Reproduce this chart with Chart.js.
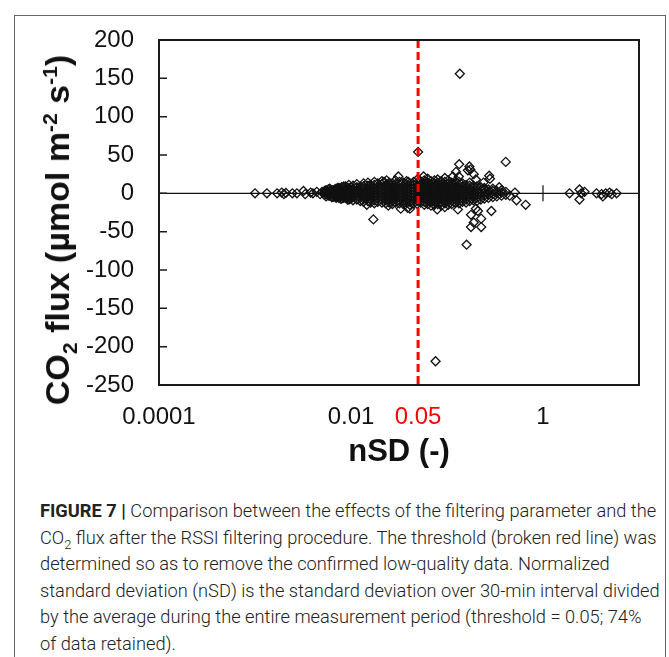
<!DOCTYPE html>
<html>
<head>
<meta charset="utf-8">
<script src="https://cdn.jsdelivr.net/npm/chart.js@4.4.1/dist/chart.umd.min.js"></script>
<style>
  html, body { margin: 0; padding: 0; background: #fff; }
  body { width: 669px; height: 657px; position: relative; overflow: hidden; }
  .frame { position: absolute; left: 14px; top: 15px; width: 652px; height: 700px; border: 1.5px solid #666; box-sizing: border-box; }
  #chart { position: absolute; left: 0; top: 0; }
  .ytitle { position: absolute; left: 57px; top: 230px; transform: translate(-50%, -50%) rotate(-90deg);
    font: bold 34px "Liberation Sans", Arial, sans-serif; line-height: 34px; white-space: nowrap; color: #111; }
  .ytitle sub, .ytitle sup { font-size: 0.62em; line-height: 0; }
  .caption { position: absolute; left: 40px; top: 498px; font: 300 18.25px Roboto, sans-serif; line-height: 26.5px; color: #222; white-space: nowrap; }
  .caption b { font-weight: 700; }
  .caption sub { font-size: 0.7em; line-height: 0; }
</style>
</head>
<body>
<div class="frame"></div>
<canvas id="chart" width="669" height="490"></canvas>
<div class="ytitle">CO<sub>2</sub> flux (µmol m<sup>-2</sup> s<sup>-1</sup>)</div>
<div class="caption">
  <div><b>FIGURE 7 |</b> Comparison between the effects of the filtering parameter and the</div>
  <div>CO<sub>2</sub> flux after the RSSI filtering procedure. The threshold (broken red line) was</div>
  <div>determined so as to remove the confirmed low-quality data. Normalized</div>
  <div>standard deviation (nSD) is the standard deviation over 30-min interval divided</div>
  <div>by the average during the entire measurement period (threshold = 0.05; 74%</div>
  <div>of data retained).</div>
</div>
<script>
// axis ticks
const xTickValues = [0.0001, 0.01, 0.05, 1];
const xTickLabels = ['0.0001', '0.01', '0.05', '1'];
const yTickValues = [-250, -200, -150, -100, -50, 0, 50, 100, 150, 200];
const threshold = 0.05;

// dense band: nSD of each column and the CO2 flux values in it
const bandNsd = [0.0053, 0.0055, 0.0058, 0.006, 0.0063, 0.0065, 0.0068, 0.007, 0.0073, 0.0075,
  0.0078, 0.008, 0.0084, 0.0088, 0.0092, 0.0095, 0.01, 0.0105, 0.0115,
  0.0125, 0.0135, 0.015, 0.016, 0.0175, 0.019, 0.021, 0.023, 0.025, 0.027,
  0.029, 0.032, 0.035, 0.038, 0.041, 0.045, 0.049, 0.053, 0.058, 0.063,
  0.068, 0.074, 0.08, 0.087, 0.095, 0.103, 0.112, 0.122, 0.133, 0.145,
  0.158, 0.172, 0.188, 0.205, 0.225, 0.245, 0.27, 0.3, 0.33, 0.37, 0.41];
const bandFlux = [
  [-2, 1, 3], [-4, -1, 2, 4], [-3, 0, 2, 5], [-3, 0, 3, 6], [-5, -1, 2, 4], [-5, -2, 1, 4], [-4, -1, 2, 5], [-6, -4, 0, 3, 6], [-5, -2, 1, 4, 7], [-6, -3, 0, 4, 7],
  [-7, -4, -1, 2, 5], [-7, -3, 1, 4, 8], [-6, -3, 0, 3, 6, 9], [-6, -2, 2, 5, 9], [-8, -5, -1, 2, 6], [-8, -4, 0, 3, 7, 11], [-7, -3, 1, 4, 8], [-9, -5, -1, 3, 6, 10], [-8, -4, 0, 4, 8, 12],
  [-10, -6, -2, 2, 6, 9], [-11, -7, -3, 1, 5, 9, 13], [-10, -6, -2, 2, 6, 10, 14], [-12, -8, -4, 0, 4, 8, 11], [-13, -9, -5, -1, 3, 7, 11, 15], [-11, -7, -3, 1, 5, 9, 13], [-12, -8, -4, 0, 4, 8, 12, 16], [-13, -9, -5, -1, 3, 7, 11], [-12, -8, -4, 0, 4, 8, 12, 14], [-14, -10, -6, -2, 2, 6, 10, 13],
  [-12, -8, -4, 0, 4, 8, 12, 17], [-13, -9, -5, -1, 3, 7, 11, 15], [-14, -10, -6, -2, 2, 6, 10, 14], [-12, -8, -4, 0, 4, 8, 12, 16], [-15, -11, -7, -3, 1, 5, 9, 13], [-13, -9, -5, -1, 3, 7, 11, 15], [-14, -10, -6, -2, 2, 6, 10, 14, 18], [-12, -8, -4, 0, 4, 8, 12, 16], [-15, -11, -7, -3, 1, 5, 9, 13, 17], [-14, -10, -6, -2, 2, 6, 10, 14, 19],
  [-16, -12, -8, -4, 0, 4, 8, 12, 16], [-15, -11, -7, -3, 1, 5, 9, 13, 17], [-14, -10, -6, -2, 2, 6, 10, 14, 18], [-16, -12, -8, -4, 0, 4, 8, 12, 16], [-13, -9, -5, -1, 3, 7, 11, 15, 20], [-15, -11, -7, -3, 1, 5, 9, 13, 17], [-14, -10, -6, -2, 2, 6, 10, 14], [-12, -8, -4, 0, 4, 8, 12, 16], [-13, -9, -5, -1, 3, 7, 11, 15, 22], [-11, -7, -3, 1, 5, 9, 13],
  [-12, -8, -4, 0, 4, 8, 11], [-10, -6, -2, 2, 6, 10, 14], [-9, -5, -1, 3, 7, 10], [-10, -6, -2, 2, 6, 9], [-8, -4, 0, 4, 8], [-7, -3, 1, 5, 7], [-6, -2, 2, 5], [-5, -1, 3, 6], [-4, 0, 3], [-3, 1, 4], [-2, 2]
];

// sparse points: left tail, scattered outliers, right cluster
const sparseNsd = [
  0.001, 0.00133, 0.0017, 0.0019, 0.002, 0.0021, 0.00245, 0.00273, 0.0032, 0.00333, 0.0038, 0.00401, 0.0044, 0.00477, 0.005,
  0.0135, 0.0146, 0.0171, 0.0221, 0.0235, 0.0245, 0.0311, 0.033, 0.0395, 0.039, 0.0411, 0.05, 0.057, 0.079, 0.076,
  0.095, 0.115, 0.124, 0.13, 0.134, 0.136, 0.16, 0.165, 0.171, 0.175, 0.178, 0.178, 0.19, 0.19, 0.2,
  0.2, 0.21, 0.227, 0.227, 0.24, 0.275, 0.28, 0.29, 0.35, 0.409, 0.45, 0.51, 0.53, 0.66,
  1.89, 2.4, 2.4, 2.5, 2.71, 3.61, 4.07, 4.2, 4.5, 4.94, 5.2, 5.84
];
const sparseFlux = [
  0, 0, 0, 1, -1, 0.5, 0, 0, 3, -1, 1, 0, 2, -1, 2,
  9, -15, -34, 15, 17, -16, 22, -20, 15, -19, -20, 54, 22, -21, -219,
  -18, 22, 28, -21, 38, 156, -67, 30, 35, 31, -28, -44, 25, -38, 18,
  -20, -23, -33, -44, 14, 23, 19, -23, 8, 41, -3, 1, -9, -15,
  0, 5, -8, 0, 2, 0, -1, -4, 0, 1, -1, 0
];

const points = [];
bandNsd.forEach((x, i) => bandFlux[i].forEach(y => points.push({ x, y })));
sparseNsd.forEach((x, i) => points.push({ x, y: sparseFlux[i] }));

const fontFamily = '"Liberation Sans", Arial, sans-serif';

// zero line, threshold line, plot box and inside tick marks
const plotDecor = {
  id: 'plotDecor',
  beforeDatasetsDraw(chart) {
    const { ctx, chartArea: a, scales: { x, y } } = chart;
    const y0 = y.getPixelForValue(0);
    ctx.save();
    ctx.strokeStyle = '#111';
    ctx.lineWidth = 1.2;
    ctx.beginPath();
    ctx.moveTo(a.left, y0);
    ctx.lineTo(a.right, y0);
    xTickValues.filter(v => v !== threshold).forEach(v => {
      const px = x.getPixelForValue(v);
      ctx.moveTo(px, y0 - 8);
      ctx.lineTo(px, y0 + 8);
    });
    ctx.stroke();
    ctx.restore();
  },
  afterDatasetsDraw(chart) {
    const { ctx, chartArea: a, scales: { x, y } } = chart;
    ctx.save();
    // threshold
    const xt = x.getPixelForValue(threshold);
    ctx.strokeStyle = '#ff0000';
    ctx.lineWidth = 3;
    ctx.setLineDash([8, 4]);
    ctx.beginPath();
    ctx.moveTo(xt, a.top);
    ctx.lineTo(xt, a.bottom);
    ctx.stroke();
    ctx.setLineDash([]);
    // box
    ctx.strokeStyle = '#1a1a1a';
    ctx.lineWidth = 2;
    ctx.strokeRect(a.left, a.top, a.right - a.left, a.bottom - a.top);
    // y tick marks, inside
    ctx.lineWidth = 1.5;
    ctx.beginPath();
    yTickValues.forEach(v => {
      const py = y.getPixelForValue(v);
      ctx.moveTo(a.left, py);
      ctx.lineTo(a.left + 8, py);
    });
    ctx.stroke();
    ctx.restore();
  }
};

new Chart(document.getElementById('chart'), {
  type: 'scatter',
  data: {
    datasets: [{
      label: 'CO2 flux',
      data: points,
      pointStyle: 'rectRot',
      pointRadius: 4.5,
      borderColor: '#111',
      borderWidth: 1.3,
      backgroundColor: 'rgba(0,0,0,0)'
    }]
  },
  options: {
    responsive: false,
    animation: false,
    layout: { padding: { left: 0, top: 40, right: 30, bottom: 0 } },
    plugins: {
      legend: { display: false },
      tooltip: { enabled: false }
    },
    scales: {
      x: {
        type: 'logarithmic',
        min: 0.0001,
        max: 10,
        afterBuildTicks: (scale) => { scale.ticks = xTickValues.map(v => ({ value: v })); },
        afterFit: (scale) => { scale.height = 105; },
        grid: { display: false, drawTicks: false },
        border: { display: false },
        ticks: {
          autoSkip: false,
          maxRotation: 0,
          padding: 18,
          font: { family: fontFamily, size: 24 },
          color: (ctx) => (ctx.tick && ctx.tick.value === threshold ? '#ff0000' : '#111'),
          callback: (value, index) => xTickLabels[index]
        },
        title: {
          display: true,
          text: 'nSD (-)',
          color: '#111',
          font: { family: fontFamily, size: 31, weight: 'bold' },
          padding: { top: 0, bottom: 19 }
        }
      },
      y: {
        min: -250,
        max: 200,
        afterBuildTicks: (scale) => { scale.ticks = yTickValues.map(v => ({ value: v })); },
        afterFit: (scale) => { scale.width = 159; },
        grid: { display: false, drawTicks: false },
        border: { display: false },
        ticks: {
          padding: 25,
          font: { family: fontFamily, size: 24 },
          color: '#111',
          callback: (value) => String(value)
        }
      }
    }
  },
  plugins: [plotDecor]
});
</script>
</body>
</html>
